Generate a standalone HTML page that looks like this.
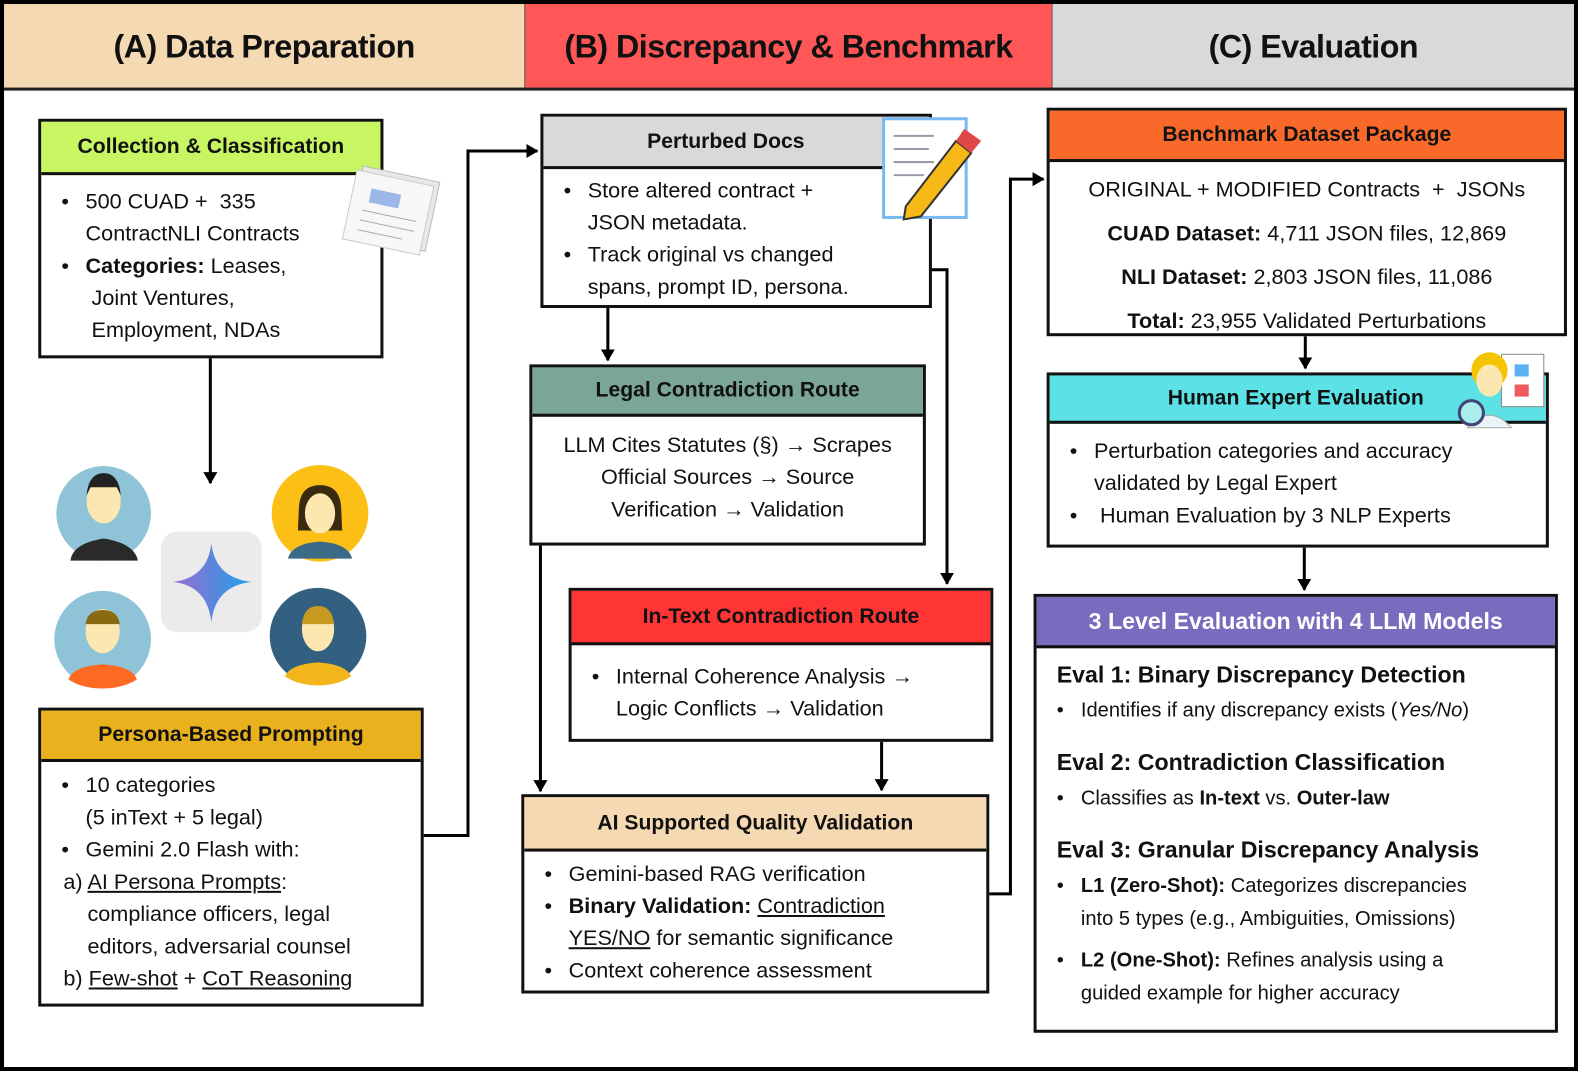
<!DOCTYPE html>
<html><head><meta charset="utf-8"><style>
*{box-sizing:border-box;margin:0;padding:0}
body{width:1578px;height:1071px;position:relative;background:#fff;font-family:"Liberation Sans",sans-serif;overflow:hidden;color:#111}
#w{position:absolute;left:0;top:0;width:1568px;height:1064px;transform:scale(1.0064,1.0066);transform-origin:0 0}
.frame{position:absolute;left:0;top:0;width:1568px;height:1064px;border:4px solid #000;}
.hd{position:absolute;top:4px;height:84px;font-weight:bold;font-size:32px;display:flex;align-items:center;justify-content:center;letter-spacing:-0.5px}
.box{position:absolute;border:3px solid #111;background:#fff}
.bh{position:absolute;left:0;right:0;top:0;border-bottom:3px solid #111;font-weight:bold;font-size:21px;display:flex;align-items:center;justify-content:center}
.bb{position:absolute;left:0;right:0;bottom:0;font-size:21px;line-height:32px}
ul{list-style:none}
li{position:relative;padding-left:44px}
li:before{content:"•";position:absolute;left:20px}
.c{text-align:center}
u{text-decoration:underline}
</style></head><body><div id="w">
<div class="hd" style="left:4px;width:517px;background:#f5d9b2">(A) Data Preparation</div>
<div class="hd" style="left:521px;width:525px;background:#ff5757;border-left:1px solid #555;border-right:1px solid #555">(B) Discrepancy &amp; Benchmark</div>
<div class="hd" style="left:1046px;width:518px;background:#d9d9d9">(C) Evaluation</div>
<div style="position:absolute;left:4px;top:87px;width:1560px;height:3px;background:#222"></div>
<div class="frame"></div>

<svg width="1568" height="1064" style="position:absolute;left:0;top:0">
<defs>
<marker id="b" markerWidth="14" markerHeight="14" refX="11" refY="7" orient="auto" markerUnits="userSpaceOnUse"><path d="M0,0 L12,7 L0,14 z" fill="#000"/></marker>
<linearGradient id="g" x1="0" y1="0" x2="1" y2="0"><stop offset="0" stop-color="#9b6bd1"/><stop offset="1" stop-color="#1ea1e8"/></linearGradient></defs>
<g stroke="#000" stroke-width="3" fill="none">
<path d="M209,356 V480" marker-end="url(#b)"/>
<path d="M420,830 H465 V150 H534" marker-end="url(#b)"/>
<path d="M604,306 V358" marker-end="url(#b)"/>
<path d="M925,268 H941 V580" marker-end="url(#b)"/>
<path d="M537,541 V786" marker-end="url(#b)"/>
<path d="M876,737 V785" marker-end="url(#b)"/>
<path d="M982,888 H1004 V178 H1037" marker-end="url(#b)"/>
<path d="M1297,334 V366" marker-end="url(#b)"/>
<path d="M1296,544 V586" marker-end="url(#b)"/>
</g>
<circle cx="103" cy="510" r="47" fill="#8ec3d8"/><path d="M70,557 Q72,540 103,535 Q134,540 137,557 Z" fill="#2a2a2a"/><ellipse cx="103" cy="498" rx="17" ry="22" fill="#fde7b0"/><path d="M86,492 Q88,470 103,470 Q118,470 120,492 L116,484 H90Z" fill="#222"/>
<circle cx="318" cy="510" r="48" fill="#fcbf16"/><path d="M286,555 Q290,540 318,538 Q346,540 350,555 Z" fill="#3a6a85"/><path d="M297,505 Q298,482 318,482 Q338,482 339,505 L340,527 H296Z" fill="#3b2a10"/><ellipse cx="318" cy="510" rx="15" ry="20" fill="#fde7b0"/>
<circle cx="102" cy="635" r="48" fill="#8ec3d8"/><path d="M68,675 Q72,662 102,660 Q132,662 136,675 Q122,684 102,684 Q82,684 68,675Z" fill="#ff6a22"/><ellipse cx="102" cy="627" rx="17" ry="22" fill="#fde7b0"/><path d="M85,620 Q87,606 102,606 Q117,606 119,620Z" fill="#8a6a10"/>
<circle cx="316" cy="632" r="48" fill="#336080"/><path d="M283,672 Q288,660 316,658 Q344,660 349,672 Q335,681 316,681 Q297,681 283,672Z" fill="#f2b51c"/><ellipse cx="316" cy="625" rx="16" ry="22" fill="#fde7b0"/><path d="M300,620 Q302,602 316,602 Q330,602 332,620Z" fill="#c99a20"/>
<rect x="160" y="528" width="100" height="100" rx="16" fill="#ebebeb"/>
<path d="M210,540 Q214,574 250,578 Q214,582 210,618 Q206,582 172,578 Q206,574 210,540Z" fill="url(#g)"/>
</svg>

<div class="box" style="left:38px;top:118px;width:343px;height:238px"><div class="bh" style="height:53px;background:#c8f562">Collection &amp; Classification</div>
<div class="bb" style="top:53px;padding-top:10px;font-size:21.5px"><ul><li>500 CUAD +&nbsp; 335<br>ContractNLI Contracts</li><li><b>Categories:</b> Leases,<br>&nbsp;Joint Ventures,<br>&nbsp;Employment, NDAs</li></ul></div></div>

<div class="box" style="left:38px;top:703px;width:383px;height:297px"><div class="bh" style="height:51px;background:#e8b11d">Persona-Based Prompting</div>
<div class="bb" style="top:51px;padding-top:7px;font-size:21.5px"><ul><li>10 categories<br>(5 inText + 5 legal)</li><li>Gemini 2.0 Flash with:</li></ul>
<div style="padding-left:22px">a) <u>AI Persona Prompts</u>:<br>&nbsp;&nbsp;&nbsp;&nbsp;compliance officers, legal<br>&nbsp;&nbsp;&nbsp;&nbsp;editors, adversarial counsel<br>b) <u>Few-shot</u> + <u>CoT Reasoning</u></div></div></div>

<div class="box" style="left:537px;top:113px;width:389px;height:193px"><div class="bh" style="height:52px;background:#d9d9d9;justify-content:flex-start;padding-left:103px">Perturbed Docs</div>
<div class="bb" style="top:52px;padding-top:5px;font-size:21.5px"><ul><li>Store altered contract +<br>JSON metadata.</li><li>Track original vs changed<br>spans, prompt ID, persona.</li></ul></div></div>

<div class="box" style="left:526px;top:362px;width:394px;height:180px"><div class="bh" style="height:49px;background:#7aa597">Legal Contradiction Route</div>
<div class="bb c" style="top:49px;padding-top:12px;font-size:21.5px">LLM Cites Statutes (§) → Scrapes<br>Official Sources → Source<br>Verification → Validation</div></div>

<div class="box" style="left:565px;top:584px;width:422px;height:153px"><div class="bh" style="height:54px;background:#ff3434">In-Text Contradiction Route</div>
<div class="bb" style="top:54px;padding-top:15px;font-size:21.5px"><ul><li>Internal Coherence Analysis →<br>Logic Conflicts → Validation</li></ul></div></div>

<div class="box" style="left:518px;top:789px;width:465px;height:198px"><div class="bh" style="height:54px;background:#f5d9b2">AI Supported Quality Validation</div>
<div class="bb" style="top:54px;padding-top:6px;font-size:21.5px"><ul><li>Gemini-based RAG verification</li><li><b>Binary Validation:</b> <u>Contradiction<br>YES/NO</u> for semantic significance</li><li>Context coherence assessment</li></ul></div></div>

<div class="box" style="left:1040px;top:107px;width:517px;height:227px"><div class="bh" style="height:51px;background:#f96a2a">Benchmark Dataset Package</div>
<div class="bb c" style="top:51px;padding-top:6px;line-height:43.5px;font-size:21.5px">ORIGINAL + MODIFIED Contracts&nbsp; +&nbsp; JSONs<br><b>CUAD Dataset:</b> 4,711 JSON files, 12,869<br><b>NLI Dataset:</b> 2,803 JSON files, 11,086<br><b>Total:</b> 23,955 Validated Perturbations</div></div>

<div class="box" style="left:1040px;top:370px;width:499px;height:174px"><div class="bh" style="height:48px;background:#5ce1e6;padding-right:4px">Human Expert Evaluation</div>
<div class="bb" style="top:48px;padding-top:11px;font-size:21.5px"><ul><li>Perturbation categories and accuracy<br>validated by Legal Expert</li><li>&nbsp;Human Evaluation by 3 NLP Experts</li></ul></div></div>

<div class="box" style="left:1027px;top:590px;width:521px;height:436px"><div class="bh" style="height:51px;background:#7b6bbf;color:#fff;font-size:23px">3 Level Evaluation with 4 LLM Models</div>
<div class="bb" style="top:51px;padding:6px 0 0 20px;font-size:20px;line-height:33px">
<div style="font-weight:bold;font-size:23px;line-height:40px">Eval 1: Binary Discrepancy Detection</div>
<ul style="margin-left:-20px"><li>Identifies if any discrepancy exists (<i>Yes/No</i>)</li></ul>
<div style="font-weight:bold;font-size:23px;line-height:40px;margin-top:14px">Eval 2: Contradiction Classification</div>
<ul style="margin-left:-20px"><li>Classifies as <b>In-text</b> vs. <b>Outer-law</b></li></ul>
<div style="font-weight:bold;font-size:23px;line-height:40px;margin-top:14px">Eval 3: Granular Discrepancy Analysis</div>
<ul style="margin-left:-20px"><li><b>L1 (Zero-Shot):</b> Categorizes discrepancies<br>into 5 types (e.g., Ambiguities, Omissions)</li><li style="margin-top:8px"><b>L2 (One-Shot):</b> Refines analysis using a<br>guided example for higher accuracy</li></ul></div></div>

<svg width="1568" height="1064" style="position:absolute;left:0;top:0">
<g transform="rotate(12 390 210)"><rect x="352" y="172" width="78" height="70" fill="#e8e8e8" stroke="#bbb"/><rect x="347" y="177" width="78" height="70" fill="#f7f7f7" stroke="#ccc"/><rect x="365" y="192" width="30" height="14" fill="#9cb8e8"/><g stroke="#aaa"><path d="M360,215h55M360,225h55M360,235h45"/></g></g>
<rect x="878" y="118" width="82" height="98" fill="#fff" stroke="#7ab8f0" stroke-width="3"/>
<g stroke="#99a" stroke-width="2"><path d="M888,135h40M888,148h35M888,161h40M888,174h30"/></g>
<path d="M900,205 L950,140 L965,152 L915,215 L898,218Z" fill="#f7b918" stroke="#333" stroke-width="2"/><path d="M950,140 L958,128 L975,140 L965,152Z" fill="#e04848"/>
<rect x="1492" y="352" width="42" height="52" fill="#fff" stroke="#888"/><rect x="1505" y="362" width="14" height="12" fill="#5ab0f0"/><rect x="1505" y="382" width="14" height="12" fill="#f05a5a"/>
<circle cx="1480" cy="368" r="18" fill="#f5c400"/><ellipse cx="1480" cy="378" rx="13" ry="16" fill="#fde7b0"/><path d="M1458,425 Q1480,400 1502,425Z" fill="#e8f4f8" stroke="#aaa"/><circle cx="1462" cy="410" r="12" fill="#aee" stroke="#447" stroke-width="3"/>
</svg>
</div></body></html>
